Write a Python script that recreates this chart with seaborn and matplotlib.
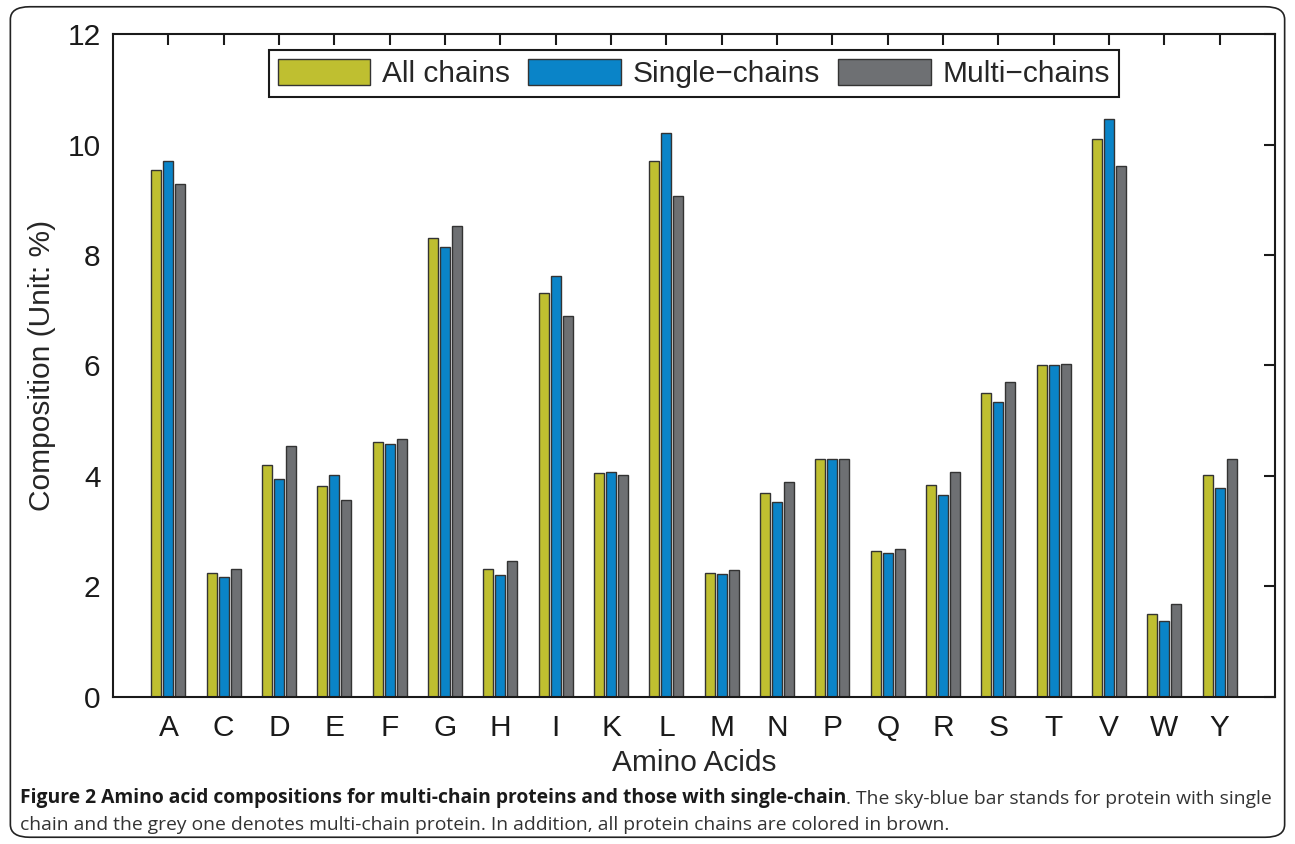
import pandas as pd
import numpy as np
import matplotlib.pyplot as plt
import seaborn as sns
from matplotlib.patches import FancyBboxPatch


amino_acids = ['A', 'C', 'D', 'E', 'F', 'G', 'H', 'I', 'K', 'L',
               'M', 'N', 'P', 'Q', 'R', 'S', 'T', 'V', 'W', 'Y']
all_chains = [9.53, 2.24, 4.20, 3.82, 4.62, 8.31, 2.32, 7.32, 4.05, 9.70,
              2.25, 3.69, 4.30, 2.64, 3.83, 5.50, 6.01, 10.10, 1.50, 4.02]
single_chains = [9.70, 2.18, 3.95, 4.02, 4.58, 8.14, 2.21, 7.62, 4.08, 10.20,
                 2.22, 3.53, 4.30, 2.61, 3.65, 5.34, 6.01, 10.47, 1.37, 3.79]
multi_chains = [9.29, 2.32, 4.55, 3.57, 4.67, 8.52, 2.47, 6.90, 4.02, 9.06,
                2.29, 3.90, 4.30, 2.68, 4.08, 5.70, 6.02, 9.62, 1.69, 4.31]
series_names = ['All chains', 'Single\u2212chains', 'Multi\u2212chains']
colors = ['#BFBF30', '#0A84C8', '#6E7073']

df = pd.DataFrame({
    'aa': amino_acids * 3,
    'value': all_chains + single_chains + multi_chains,
    'series': np.repeat(series_names, len(amino_acids)),
})

sns.set_theme(style='white')
plt.rcParams['font.family'] = ['Liberation Sans', 'DejaVu Sans']

fig = plt.figure(figsize=(12.95, 8.44), dpi=100)
ax = fig.add_axes([0.0873, 0.1742, 0.8973, 0.7855])

sns.barplot(data=df, x='aa', y='value', hue='series', palette=colors,
            width=0.65, gap=0.15, edgecolor='#333333', linewidth=1.0,
            saturation=1, ax=ax)

ax.set_xlim(-1, 20)
ax.set_ylim(0, 12)
ax.set_yticks([0, 2, 4, 6, 8, 10, 12])
ax.tick_params(direction='in', length=8, width=1.5, labelsize=21.5,
               top=True, right=True, colors='#1a1a1a')
ax.tick_params(axis='x', pad=12)
ax.tick_params(axis='y', pad=9)
for s in ax.spines.values():
    s.set_linewidth(1.5)
    s.set_color('#1a1a1a')
ax.set_xlabel('Amino Acids', fontsize=21.5, labelpad=5)
ax.set_ylabel('Composition (Unit: %)', fontsize=21.5, labelpad=8)

handles, labels = ax.get_legend_handles_labels()
ax.legend(handles, labels, loc='upper center', ncol=3, fontsize=21.5,
          bbox_to_anchor=(0.5, 0.976), borderaxespad=0, frameon=True,
          fancybox=False, edgecolor='#1a1a1a', framealpha=1,
          handlelength=3.1, handleheight=0.95, handletextpad=0.4,
          columnspacing=0.6, borderpad=0.3)
ax.get_legend().get_frame().set_linewidth(1.5)

# rounded outer frame
frame = FancyBboxPatch((0.008, 0.008), 0.984, 0.984, transform=fig.transFigure,
                       boxstyle='round,pad=0,rounding_size=0.015',
                       fill=False, edgecolor='#222222', linewidth=1.2)
fig.patches.append(frame)

# caption
bold = fig.text(0.0155, 0.048, 'Figure 2 Amino acid compositions for multi-chain proteins and those with single-chain',
                fontsize=13.9, fontweight='bold', family='Open Sans', color='#1a1a1a')
ax.annotate('. The sky-blue bar stands for protein with single', xy=(1, 0),
            xycoords=bold, fontsize=13.9, family='Open Sans', color='#333333',
            va='bottom', ha='left', annotation_clip=False)
fig.text(0.0155, 0.0165, 'chain and the grey one denotes multi-chain protein. In addition, all protein chains are colored in brown.',
         fontsize=13.9, family='Open Sans', color='#333333')

plt.savefig('out.png', dpi=100)
